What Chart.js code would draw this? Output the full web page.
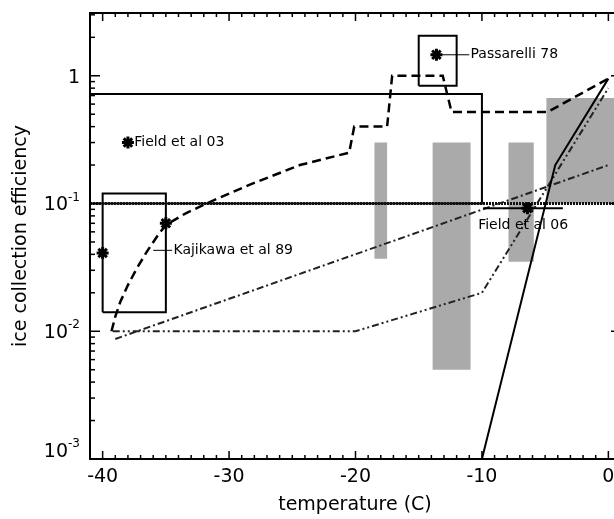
<!DOCTYPE html>
<html>
<head>
<meta charset="utf-8">
<script src="https://cdn.jsdelivr.net/npm/chart.js@4/dist/chart.umd.min.js"></script>
<style>
  html, body { margin: 0; padding: 0; background: #fff; overflow: hidden; }
  #quadro { width: 630px; height: 519px; position: relative; }
</style>
</head>
<body>
<div id="quadro"><canvas id="eficienciaGrafic"></canvas></div>
<script>
// eixos
var tempRange = [-41, 1.0];
var effRange = [0.001, 3.1];
var tempTicks = [-40, -30, -20, -10, 0];
var effTicks = [0.001, 0.01, 0.1, 1];
var effTickBase = ['10', '10', '10', '1'];
var effTickExp = ['-3', '-2', '-1', ''];

// curva tracejada (modelo)
var dashTemp = [-39.3, -39.0, -38.6, -38.0, -37.3, -36.5, -35.6, -35, -33.5, -31.8, -28.4, -24.4, -20.5, -20.1, -17.5, -17.1, -13.1, -12.4, -4.8, 0];
var dashEff  = [0.010, 0.013, 0.017, 0.023, 0.031, 0.042, 0.057, 0.068, 0.083, 0.1, 0.14, 0.2, 0.25, 0.4, 0.4, 1.0, 1.0, 0.52, 0.52, 0.95];

// linha continua
var solidTemp = [-10, -4.2, 0];
var solidEff  = [0.001, 0.2, 0.95];

// traco-ponto
var dotDashTemp = [-39, 0];
var dotDashEff  = [0.0087, 0.2];

// traco-ponto-ponto
var dotDotTemp = [-39.2, -20, -10, 0];
var dotDotEff  = [0.01, 0.01, 0.02, 0.8];

// linha horizontal em 0.1
var refEff = 0.1;

// barras cinzas
var barLeft   = [-18.5, -13.9, -7.9, -4.9];
var barRight  = [-17.5, -10.9, -5.9, 1.0];
var barBottom = [0.037, 0.005, 0.035, 0.1];
var barTop    = [0.3, 0.3, 0.3, 0.67];

// caixas
var boxLeft   = [-41, -40, -15];
var boxRight  = [-10, -35, -12];
var boxBottom = [0.1, 0.0141, 0.835];
var boxTop    = [0.72, 0.12, 2.06];

// observacoes (estrelas)
var obsTemp = [-38, -40, -35, -13.6, -6.4];
var obsEff  = [0.3, 0.041, 0.07, 1.46, 0.092];

// linhas guia
var guideFrom  = [-13.6, -36, -9.9];
var guideTo    = [-11, -34.5, -3.6];
var guideEff   = [1.46, 0.043, 0.092];
var guideWidth = [1, 1, 2];

// rotulos
var labelText = ['Field et al 03', 'Kajikawa et al 89', 'Passarelli 78', 'Field et al 06'];
var labelTemp = [-37.5, -34.4, -10.9, -10.3];
var labelEff  = [0.3, 0.043, 1.46, 0.068];

function pts(xs, ys) {
  return xs.map(function(x, i) { return { x: x, y: ys[i] }; });
}
function rect(x1, x2, y1, y2) {
  return [{x: x1, y: y1}, {x: x2, y: y1}, {x: x2, y: y2}, {x: x1, y: y2}, {x: x1, y: y1}];
}

var datasets = [];

datasets.push({ data: pts(obsTemp, obsEff), showLine: false, pointStyle: 'star',
  pointRadius: 6, pointBorderWidth: 3, pointBorderColor: '#000', pointBackgroundColor: '#000' });

for (var g = 0; g < guideFrom.length; g++) {
  datasets.push({ data: [{x: guideFrom[g], y: guideEff[g]}, {x: guideTo[g], y: guideEff[g]}],
    borderColor: '#000', borderWidth: guideWidth[g], pointRadius: 0, fill: false });
}

datasets.push({ data: pts(solidTemp, solidEff), borderColor: '#000', borderWidth: 2, pointRadius: 0, fill: false });
datasets.push({ data: pts(dashTemp, dashEff), borderColor: '#000', borderWidth: 2.5, borderDash: [9, 5], pointRadius: 0, fill: false });
datasets.push({ data: pts(dotDashTemp, dotDashEff), borderColor: '#222', borderWidth: 2, borderDash: [7, 3, 2, 3], pointRadius: 0, fill: false });
datasets.push({ data: pts(dotDotTemp, dotDotEff), borderColor: '#222', borderWidth: 2, borderDash: [7, 3, 2, 3, 2, 3], pointRadius: 0, fill: false });
datasets.push({ data: [{x: tempRange[0], y: refEff}, {x: tempRange[1], y: refEff}],
  borderColor: '#111', borderWidth: 3, borderDash: [2, 1], pointRadius: 0, fill: false });

for (var b = 0; b < boxLeft.length; b++) {
  datasets.push({ data: rect(boxLeft[b], boxRight[b], boxBottom[b], boxTop[b]),
    borderColor: '#000', borderWidth: 2, pointRadius: 0, fill: false });
}
for (var i = 0; i < barLeft.length; i++) {
  datasets.push({ data: rect(barLeft[i], barRight[i], barBottom[i], barTop[i]),
    borderWidth: 0, borderColor: 'rgba(0,0,0,0)', backgroundColor: '#aaaaaa',
    pointRadius: 0, fill: 'shape', order: 10 });
}

var cadre = {
  id: 'cadre',
  afterDatasetsDraw: function(chart) {
    var ctx = chart.ctx, a = chart.chartArea;
    var sx = chart.scales.x, sy = chart.scales.y;
    function seg(x1, y1, x2, y2) { ctx.beginPath(); ctx.moveTo(x1, y1); ctx.lineTo(x2, y2); ctx.stroke(); }
    ctx.save();
    ctx.strokeStyle = '#000';
    ctx.lineWidth = 2;
    ctx.strokeRect(a.left, a.top, a.right - a.left, a.bottom - a.top);
    ctx.lineWidth = 1.5;
    for (var t = Math.ceil(tempRange[0]); t <= tempRange[1]; t++) {
      var px = sx.getPixelForValue(t);
      var len = (t % 10 === 0) ? 8 : 4;
      seg(px, a.bottom, px, a.bottom - len);
      seg(px, a.top, px, a.top + len);
    }
    for (var e = -3; e <= 0; e++) {
      for (var m = 1; m <= 9; m++) {
        var v = m * Math.pow(10, e);
        if (v < effRange[0] || v > effRange[1]) continue;
        var py = sy.getPixelForValue(v);
        var l2 = (m === 1) ? 10 : 5;
        seg(a.left, py, a.left + l2, py);
        seg(a.right, py, a.right - l2, py);
      }
    }
    ctx.fillStyle = '#000';
    ctx.font = '19px "DejaVu Sans"';
    ctx.textAlign = 'center';
    ctx.textBaseline = 'middle';
    tempTicks.forEach(function(t) {
      ctx.fillText(String(t), sx.getPixelForValue(t), a.bottom + 18);
    });
    effTicks.forEach(function(v, k) {
      var py = Math.min(sy.getPixelForValue(v) + 2, a.bottom - 7);
      ctx.font = '12px "DejaVu Sans"';
      var supW = effTickExp[k] ? ctx.measureText(effTickExp[k]).width : 0;
      var right = a.left - 10;
      ctx.textAlign = 'left';
      if (effTickExp[k]) ctx.fillText(effTickExp[k], right - supW, py - 8);
      ctx.font = '19px "DejaVu Sans"';
      ctx.textAlign = 'right';
      ctx.fillText(effTickBase[k], right - supW, py);
    });
    ctx.textAlign = 'center';
    ctx.fillText('temperature (C)', (sx.getPixelForValue(-41) + sx.getPixelForValue(0.6)) / 2 + 2, a.bottom + 46);
    ctx.save();
    ctx.translate(21, (a.top + a.bottom) / 2);
    ctx.rotate(-Math.PI / 2);
    ctx.fillText('ice collection efficiency', 0, 0);
    ctx.restore();
    ctx.font = '14px "DejaVu Sans"';
    ctx.textAlign = 'left';
    labelText.forEach(function(txt, k) {
      ctx.fillText(txt, sx.getPixelForValue(labelTemp[k]), sy.getPixelForValue(labelEff[k]));
    });
    ctx.restore();
  }
};

var ctx = document.getElementById('eficienciaGrafic');
var grafico = new Chart(ctx, {
  type: 'line',
  data: { datasets: datasets },
  options: {
    responsive: true,
    maintainAspectRatio: false,
    animation: false,
    layout: { padding: { left: 90, top: 13, right: 9, bottom: 60 } },
    plugins: { legend: { display: false }, tooltip: { enabled: false } },
    scales: {
      x: { type: 'linear', min: tempRange[0], max: tempRange[1], display: false },
      y: { type: 'logarithmic', min: effRange[0], max: effRange[1], display: false }
    }
  },
  plugins: [cadre]
});
</script>
</body>
</html>
